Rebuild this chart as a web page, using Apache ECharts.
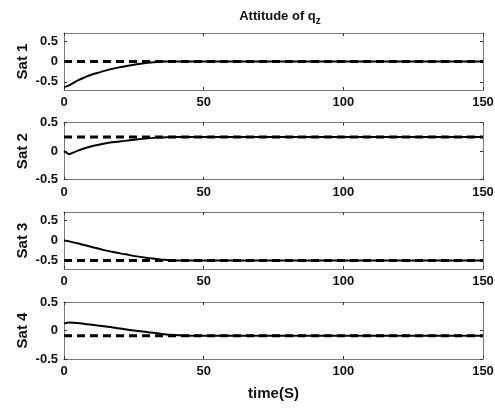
<!DOCTYPE html>
<html><head><meta charset="utf-8">
<script src="https://cdn.jsdelivr.net/npm/echarts@6/dist/echarts.min.js"></script>
<style>html,body{margin:0;padding:0;background:#fff}#c{width:495px;height:410px}</style>
</head><body><div id="c"></div>
<script>
var satNames = ['Sat 1', 'Sat 2', 'Sat 3', 'Sat 4'];
var xTicks = [0, 50, 100, 150];
var yTicks = [[-0.5, 0, 0.5], [-0.5, 0, 0.5], [-0.5, 0, 0.5], [-0.5, 0, 0.5]];
var yRanges = [[-0.7, 0.7], [-0.5, 0.5], [-0.7, 0.7], [-0.5, 0.5]];
var targets = [0, 0.25, -0.49, -0.09];
var sat1 = [[0,-0.62],[1,-0.61],[2,-0.58],[4,-0.5],[6,-0.43],[8,-0.37],[10,-0.32],[13,-0.26],[16,-0.2],[20,-0.14],[24,-0.09],[28,-0.05],[32,-0.02],[36,0],[150,0]];
var sat2 = [[0,0],[1,-0.03],[2,-0.05],[3,-0.03],[5,0.01],[8,0.06],[11,0.1],[15,0.14],[20,0.17],[25,0.2],[30,0.225],[35,0.24],[40,0.25],[150,0.25]];
var sat3 = [[0,0],[3,-0.04],[6,-0.09],[10,-0.16],[14,-0.23],[18,-0.29],[22,-0.34],[26,-0.39],[30,-0.43],[35,-0.47],[40,-0.49],[150,-0.49]];
var sat4 = [[0,0.12],[2,0.14],[5,0.13],[10,0.1],[15,0.07],[20,0.035],[25,0],[30,-0.03],[35,-0.06],[40,-0.08],[45,-0.09],[150,-0.09]];
var satData = [sat1, sat2, sat3, sat4];

var tops = [33, 122.7, 212, 302];
var H = 57;
var boxColor = '#7a7a7a';
var font = 'Liberation Sans, Arial, sans-serif';
var grids = [], xAxes = [], yAxes = [], series = [];
for (var i = 0; i < 4; i++) {
  grids.push({left: 64, right: 12, top: tops[i], height: H, show: false, containLabel: false, outerBoundsMode: 'none'});
  xAxes.push({type: 'value', gridIndex: i, min: 0, max: 150, interval: 50, position: 'bottom',
    axisLine: {show: true, onZero: false, lineStyle: {color: boxColor, width: 1}},
    axisTick: {show: true, inside: true, length: 3, lineStyle: {color: '#333'}},
    axisLabel: {show: true, color: '#111', fontSize: 13, fontWeight: 'bold', fontFamily: font, margin: 6},
    splitLine: {show: false},
    name: i === 3 ? 'time(S)' : '', nameLocation: 'middle', nameGap: 27, nameMoveOverlap: false,
    nameTextStyle: {fontSize: 15, fontWeight: 'bold', color: '#111', fontFamily: font}});
  xAxes.push({type: 'value', gridIndex: i, min: 0, max: 150, interval: 50, position: 'top',
    axisLine: {show: true, onZero: false, lineStyle: {color: boxColor, width: 1}},
    axisTick: {show: true, inside: true, length: 3, lineStyle: {color: '#333'}},
    axisLabel: {show: false}, splitLine: {show: false}});
  yAxes.push({type: 'value', gridIndex: i, min: yRanges[i][0], max: yRanges[i][1], position: 'left',
    axisLine: {show: true, onZero: false, lineStyle: {color: boxColor, width: 1}},
    axisTick: {show: true, inside: true, length: 3, customValues: yTicks[i], lineStyle: {color: '#333'}},
    axisLabel: {show: true, customValues: yTicks[i], color: '#111', fontSize: 13, fontWeight: 'bold', fontFamily: font, margin: 6},
    splitLine: {show: false},
    name: satNames[i], nameLocation: 'middle', nameRotate: 90, nameGap: 34, nameMoveOverlap: false,
    nameTextStyle: {fontSize: 15, fontWeight: 'bold', color: '#111', fontFamily: font}});
  yAxes.push({type: 'value', gridIndex: i, min: yRanges[i][0], max: yRanges[i][1], position: 'right',
    axisLine: {show: true, onZero: false, lineStyle: {color: boxColor, width: 1}},
    axisTick: {show: true, inside: true, length: 3, customValues: yTicks[i], lineStyle: {color: '#333'}},
    axisLabel: {show: false}, splitLine: {show: false}});
  series.push({type: 'line', xAxisIndex: 2*i, yAxisIndex: 2*i, data: [[0, targets[i]], [150, targets[i]]],
    showSymbol: false, symbol: 'none', silent: true,
    lineStyle: {color: '#000', width: 3, type: [8, 5]}});
  series.push({type: 'line', xAxisIndex: 2*i, yAxisIndex: 2*i, data: satData[i],
    showSymbol: false, symbol: 'none', smooth: 0.4, silent: true,
    lineStyle: {color: '#000', width: 2}});
}
var chart = echarts.init(document.getElementById('c'), null, {renderer: 'canvas'});
chart.setOption({
  animation: false,
  backgroundColor: '#fff',
  title: {text: '{b|Attitude of q}{s|z}', left: 275, top: 2, textAlign: 'center',
    textStyle: {rich: {
      b: {fontSize: 13, fontWeight: 'bold', color: '#111', fontFamily: font},
      s: {fontSize: 10, fontWeight: 'bold', color: '#111', fontFamily: font, verticalAlign: 'bottom', padding: [9, 0, 0, 0]}
    }}},
  grid: grids, xAxis: xAxes, yAxis: yAxes, series: series
});
</script></body></html>
